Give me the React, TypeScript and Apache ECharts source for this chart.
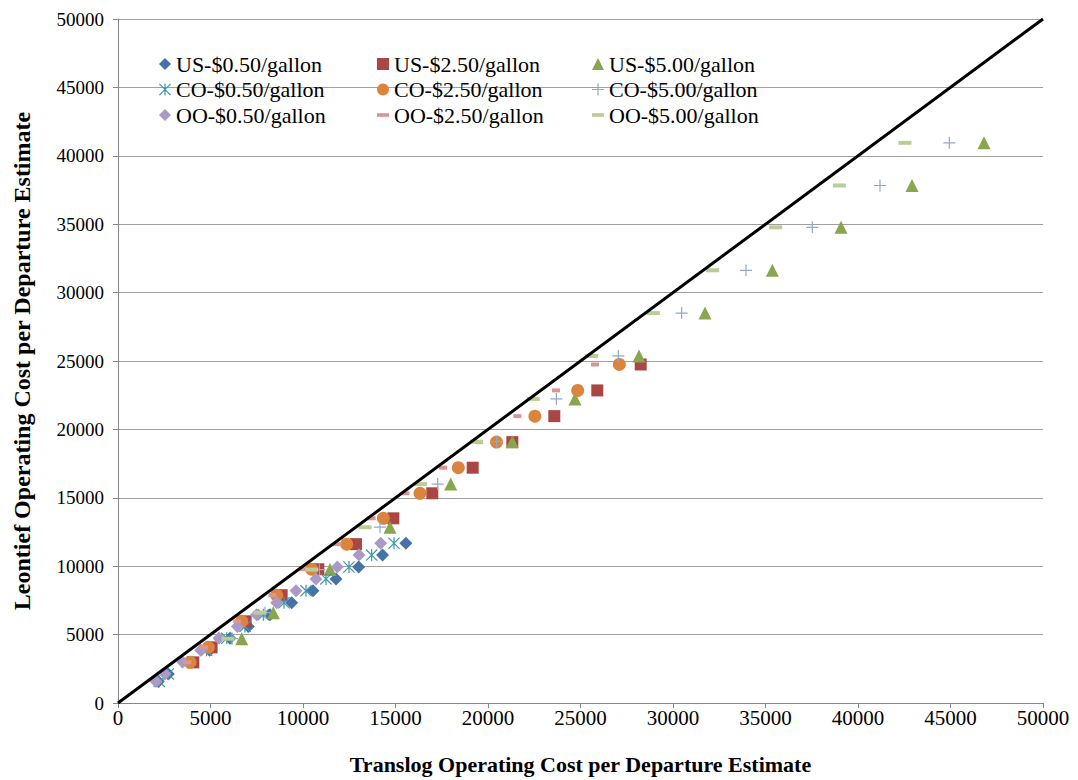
import React, { useEffect, useRef } from "react";
import * as echarts from "echarts";

// Y levels (Leontief estimate) shared by each fuel-price group
const yLevels050 = [1580, 2120, 2990, 3860, 4730, 5600, 6460, 7330, 8200, 9070, 9940, 10810, 11680];
const yLevels250 = [2970, 4070, 5970, 7880, 9780, 11610, 13500, 15330, 17200, 19070, 20970, 22850, 24745];
const yLevels500 = [4700, 6600, 9750, 12850, 16000, 19100, 22230, 25370, 28500, 31630, 34770, 37830, 40950];

// X values (Translog estimate) per series
const usX050 = [2180, 2720, 3950, 4950, 6050, 7045, 8216, 9389, 10540, 11784, 13010, 14300, 15560];
const usX250 = [4072, 5060, 6900, 8847, 10829, 12865, 14883, 16989, 19173, 21314, 23584, 25908, 28254];
const usX500 = [6686, 8396, 11459, 14703, 17984, 21314, 24703, 28162, 31730, 35370, 39081, 42919, 46811];
const coX050 = [2230, 2720, 3750, 4790, 5880, 6865, 7856, 8973, 10162, 11243, 12486, 13712, 14919];
const coX250 = [3892, 4880, 6685, 8577, 10468, 12362, 14343, 16324, 18395, 20460, 22536, 24849, 27099];
const coX500 = [6162, 7946, 10886, 14162, 17281, 20468, 23697, 27045, 30468, 33946, 37531, 41189, 44935];
const ooX050 = [2054, 2541, 3495, 4468, 5459, 6450, 7495, 8577, 9622, 10700, 11856, 13027, 14198];
const ooX250 = [3750, 4650, 6450, 8350, 10000, 11840, 13712, 15540, 17570, 19500, 21587, 23676, 25784];
const ooX500 = [5946, 7676, 10468, 13351, 16360, 19387, 22450, 25603, 28937, 32144, 35550, 38991, 42541];

const diagonal = [
  [0, 0],
  [50000, 50000],
];

const FONT = "'Liberation Serif', 'Times New Roman', serif";

const ASTERISK =
  "path://M4.5,0L5.5,0L5.5,10L4.5,10Z M0,0.7L0.7,0L10,9.3L9.3,10Z M9.3,0L10,0.7L0.7,10L0,9.3Z";
const PLUS =
  "path://M4.5,0L5.5,0L5.5,4.5L10,4.5L10,5.5L5.5,5.5L5.5,10L4.5,10L4.5,5.5L0,5.5L0,4.5L4.5,4.5Z";
const DASH = "path://M0,0L10,0L10,3L0,3Z";

const zip = (xs: number[], ys: number[]) => xs.map((x, i) => [x, ys[i]]);

export default function App() {
  const ref = useRef<HTMLDivElement>(null);

  useEffect(() => {
    if (!ref.current) return;
    const chart = echarts.init(ref.current, undefined, { renderer: "svg" });

    const scatter = (
      name: string,
      data: number[][],
      symbol: string,
      size: number | number[],
      color: string
    ) => ({
      name,
      type: "scatter",
      data,
      symbol,
      symbolSize: size,
      itemStyle: { color, opacity: 1 },
      z: 3,
    });

    const legendCommon = {
      orient: "vertical",
      top: 53,
      padding: 0,
      itemWidth: 12,
      itemHeight: 12,
      itemGap: 3.5,
      selectedMode: false,
      textStyle: { fontFamily: FONT, fontSize: 22, color: "#000", lineHeight: 22 },
    };

    const axisCommon = {
      type: "value",
      min: 0,
      max: 50000,
      interval: 5000,
      axisLine: { show: true, lineStyle: { color: "#868686", width: 1 } },
      axisTick: { show: true, inside: false, length: 5, lineStyle: { color: "#868686" } },
      nameLocation: "middle",
    };

    const fmt = (v: number) => String(v);

    chart.setOption({
      animation: false,
      backgroundColor: "#fff",
      grid: { left: 118, right: 35, top: 19, bottom: 76, containLabel: false },
      legend: [
        { ...legendCommon, left: 159, data: ["US-$0.50/gallon", "CO-$0.50/gallon", "OO-$0.50/gallon"] },
        { ...legendCommon, left: 377, data: ["US-$2.50/gallon", "CO-$2.50/gallon", "OO-$2.50/gallon"] },
        { ...legendCommon, left: 592, data: ["US-$5.00/gallon", "CO-$5.00/gallon", "OO-$5.00/gallon"] },
      ],
      xAxis: {
        ...axisCommon,
        name: "Translog Operating Cost per Departure Estimate",
        nameGap: 50,
        nameTextStyle: { fontFamily: FONT, fontSize: 22, fontWeight: "bold", color: "#000" },
        splitLine: { show: false },
        axisLabel: { fontFamily: FONT, fontSize: 21, color: "#000", margin: 4, formatter: fmt },
      },
      yAxis: {
        ...axisCommon,
        name: "Leontief Operating Cost per Departure Estimate",
        nameGap: 84,
        nameTextStyle: { fontFamily: FONT, fontSize: 24, fontWeight: "bold", color: "#000" },
        splitLine: { show: true, lineStyle: { color: "#a0a0a0", width: 1 } },
        axisLabel: { fontFamily: FONT, fontSize: 19, color: "#000", margin: 14, formatter: fmt },
      },
      series: [
        scatter("US-$0.50/gallon", zip(usX050, yLevels050), "diamond", 13, "#4572A7"),
        scatter("US-$2.50/gallon", zip(usX250, yLevels250), "rect", 12, "#AA4643"),
        scatter("US-$5.00/gallon", zip(usX500, yLevels500), "triangle", 13, "#89A54E"),
        scatter("CO-$0.50/gallon", zip(coX050, yLevels050), ASTERISK, 12, "#3D96AE"),
        scatter("CO-$2.50/gallon", zip(coX250, yLevels250), "circle", 13, "#DB843D"),
        scatter("CO-$5.00/gallon", zip(coX500, yLevels500), PLUS, 12, "#92A8CD"),
        scatter("OO-$0.50/gallon", zip(ooX050, yLevels050), "diamond", 13, "#A99BC6"),
        scatter("OO-$2.50/gallon", zip(ooX250, yLevels250), DASH, [8, 4], "#D99694"),
        scatter("OO-$5.00/gallon", zip(ooX500, yLevels500), DASH, [13, 4], "#B9CD96"),
        {
          name: "diagonal",
          type: "line",
          data: diagonal,
          showSymbol: false,
          symbol: "none",
          lineStyle: { color: "#000", width: 3 },
          z: 5,
          silent: true,
        },
      ],
    });

    return () => chart.dispose();
  }, []);

  return (
    <div
      ref={ref}
      style={{ position: "fixed", left: 0, top: 0, width: 1078, height: 780, background: "#fff" }}
    />
  );
}
